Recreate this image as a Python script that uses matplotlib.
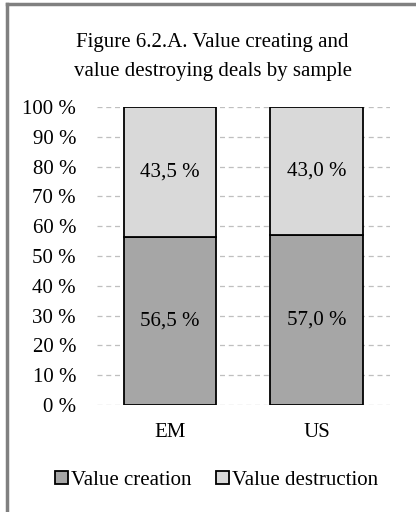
import numpy as np
import matplotlib.pyplot as plt
from matplotlib.lines import Line2D

plt.rcParams['font.family'] = ['Liberation Serif', 'DejaVu Serif']

categories = ['EM', 'US']
creation = [56.5, 57.0]
destruction = [43.5, 43.0]
yticks = [0, 10, 20, 30, 40, 50, 60, 70, 80, 90, 100]

fig = plt.figure(figsize=(4.16, 5.12), dpi=100)
ax = fig.add_axes([0.233, 0.209, 0.704, 0.582])

x = np.arange(len(categories))
w = 0.633
ax.bar(x, creation, w, color='#a6a6a6', edgecolor='black', linewidth=1.3,
       label='Value creation', zorder=3)
ax.bar(x, destruction, w, bottom=creation, color='#d9d9d9', edgecolor='black',
       linewidth=1.3, label='Value destruction', zorder=3)

for i in range(len(categories)):
    ax.text(x[i], creation[i] / 2, ('%.1f %%' % creation[i]).replace('.', ','),
            ha='center', va='center', fontsize=15)
    ax.text(x[i], creation[i] + destruction[i] / 2,
            ('%.1f %%' % destruction[i]).replace('.', ','),
            ha='center', va='center', fontsize=15)

ax.set_xlim(-0.5, 1.5)
ax.set_ylim(0, 100)
ax.set_yticks(yticks)
ax.set_yticklabels(['%d %%' % v for v in yticks], fontsize=15)
ax.set_xticks(x)
ax.set_xticklabels(categories, fontsize=15)
ax.tick_params(length=0)
ax.tick_params(axis='y', pad=15)
ax.tick_params(axis='x', pad=13)
ax.grid(axis='y', color='#bfbfbf', linestyle=(0, (4, 3)), linewidth=0.9, zorder=0)
for s in ax.spines.values():
    s.set_visible(False)

fig.text(0.511, 0.889, 'Figure 6.2.A. Value creating and\nvalue destroying deals by sample',
         ha='center', va='center', fontsize=15, linespacing=1.75)

fig.legend(loc='center', bbox_to_anchor=(0.521, 0.062), ncol=2, frameon=False,
           fontsize=15, handlelength=0.6, handleheight=0.6, handletextpad=0.15,
           columnspacing=1.2)

# outer frame (left and top edges visible)
fig.add_artist(Line2D([0.016, 0.016], [0, 0.992], color='#808080', linewidth=2.5,
                      transform=fig.transFigure))
fig.add_artist(Line2D([0.016, 1.0], [0.992, 0.992], color='#808080', linewidth=2.5,
                      transform=fig.transFigure))

fig.savefig('out.png', dpi=100)
